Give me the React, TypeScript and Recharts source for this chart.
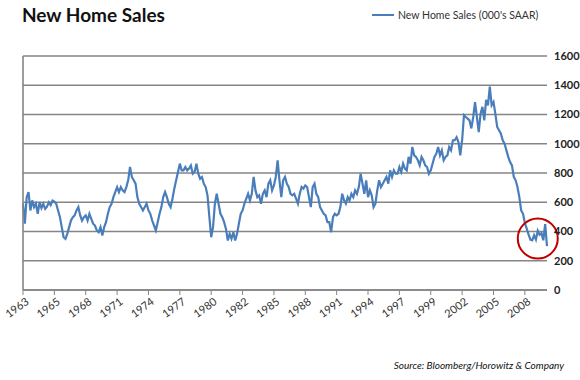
import { CartesianGrid, Line, LineChart, ReferenceDot, XAxis, YAxis } from "recharts";

// bi-monthly samples, Jan 1963 .. May 2010 (000's SAAR)
const sales = [
  590, 453, 635, 670, 544, 613, 567, 590, 521, 601,
  560, 590, 555, 570, 600, 580, 612, 605, 590, 544,
  500, 430, 361, 350, 384, 430, 475, 498, 510, 544,
  567, 510, 475, 498, 510, 475, 521, 487, 453, 441,
  407, 395, 430, 373, 430, 464, 521, 567, 590, 635,
  670, 704, 670, 704, 681, 670, 704, 750, 841, 773,
  750, 727, 635, 590, 567, 544, 567, 590, 544, 521,
  475, 441, 407, 464, 521, 567, 635, 670, 635, 590,
  567, 624, 693, 750, 807, 864, 818, 818, 841, 818,
  830, 852, 795, 807, 864, 795, 761, 773, 727, 704,
  647, 500, 361, 430, 590, 658, 590, 521, 498, 464,
  418, 338, 384, 350, 395, 338, 384, 453, 521, 544,
  590, 624, 658, 613, 658, 773, 681, 635, 647, 590,
  658, 681, 635, 727, 750, 681, 715, 773, 887,
  750, 635, 750, 773, 727, 704, 658, 647, 658, 624,
  590, 658, 704, 693, 715, 704, 635, 567, 704, 727,
  658, 635, 567, 544, 521, 510, 464, 464, 395, 498,
  521, 510, 521, 567, 658, 613, 590, 635, 613, 658,
  635, 681, 658, 704, 795, 727, 658, 750, 635, 681,
  647, 567, 590, 681, 750, 704, 727, 750, 773, 727,
  818, 773, 818, 795, 795, 841, 807, 864, 830, 818,
  910, 864, 978, 921, 910, 887, 852, 910, 887, 852,
  841, 795, 818, 864, 910, 932, 978, 921, 955, 887,
  910, 921, 978, 955, 1024, 1024, 1045, 1012, 921, 1024,
  1195, 1183, 1172, 1160, 1105, 1183, 1285, 1183, 1080, 1206,
  1252, 1160, 1300, 1263, 1390, 1263, 1285, 1206, 1115, 1092,
  1069, 1024, 1000, 955, 910, 875, 852, 773, 750, 704,
  635, 544, 521,
  458, 420, 380, 345, 340, 375, 345, 405, 378, 388, 340, 450, 300,
];

const tickLabels = [
  "1963", "1965", "1968", "1971", "1974", "1977", "1980", "1982", "1985",
  "1988", "1991", "1994", "1997", "1999", "2002", "2005", "2008",
];
const pointsPerLabel = 17; // 34 months between labels
const yTicks = [0, 200, 400, 600, 800, 1000, 1200, 1400, 1600];

// red circle around the recent lows
const circleAt = { i: 279, v: 352 };

const data = sales.map((v, i) => ({ i, v }));
const xTicks = tickLabels.map((_, k) => k * pointsPerLabel);

const font = "Lato, 'Open Sans', sans-serif";

function XTick({ x, y, payload }: any) {
  const label = tickLabels[Math.round(payload.value / pointsPerLabel)];
  return (
    <text
      x={x + 2}
      y={y}
      dy="0.71em"
      transform={`rotate(-36 ${x + 2} ${y})`}
      textAnchor="end"
      fontSize={11}
      fontFamily={font}
      fill="#333"
    >
      {label}
    </text>
  );
}

export default function App() {
  return (
    <div
      style={{
        position: "absolute",
        left: 0,
        top: 0,
        width: 580,
        height: 380,
        background: "#fff",
        fontFamily: font,
      }}
    >
      <div
        style={{
          position: "absolute",
          left: 22,
          top: 3,
          fontSize: 19,
          fontWeight: 700,
          color: "#111",
        }}
      >
        New Home Sales
      </div>
      <div
        style={{
          position: "absolute",
          left: 372,
          top: 9,
          display: "flex",
          alignItems: "center",
          fontSize: 10.5,
          color: "#333",
        }}
      >
        <svg width={24} height={4} style={{ marginRight: 2 }}>
          <line x1={0} y1={2} x2={22} y2={2} stroke="#4a7ebb" strokeWidth={2} />
        </svg>
        New Home Sales (000's SAAR)
      </div>
      <LineChart
        width={580}
        height={380}
        data={data}
        margin={{ top: 56, right: 0, left: 0, bottom: 60 }}
      >
        <CartesianGrid vertical={false} stroke="#858585" strokeWidth={1.6} />
        <XAxis
          dataKey="i"
          type="number"
          domain={[0, sales.length - 1]}
          ticks={xTicks}
          interval={0}
          height={30}
          tick={<XTick />}
          tickSize={5}
          tickMargin={2}
          axisLine={{ stroke: "#858585", strokeWidth: 1.6 }}
          tickLine={{ stroke: "#858585" }}
        />
        <YAxis
          yAxisId="left"
          orientation="left"
          width={23}
          tick={false}
          tickLine={false}
          axisLine={{ stroke: "#858585", strokeWidth: 1.6 }}
        />
        <YAxis
          orientation="right"
          width={33}
          domain={[0, 1600]}
          ticks={yTicks}
          tickLine={false}
          axisLine={false}
          tickSize={5}
          tickMargin={2}
          tick={{ fontSize: 11, fontWeight: 700, fill: "#222", fontFamily: font }}
        />
        <Line
          type="linear"
          dataKey="v"
          stroke="#4a7ebb"
          strokeWidth={2.2}
          dot={false}
          isAnimationActive={false}
        />
        <ReferenceDot
          x={circleAt.i}
          y={circleAt.v}
          r={20}
          fill="none"
          stroke="#c00000"
          strokeWidth={2}
        />
      </LineChart>
      <div
        style={{
          position: "absolute",
          right: 16,
          top: 359,
          fontSize: 10,
          fontStyle: "italic",
          color: "#111",
        }}
      >
        Source: Bloomberg/Horowitz &amp; Company
      </div>
    </div>
  );
}
